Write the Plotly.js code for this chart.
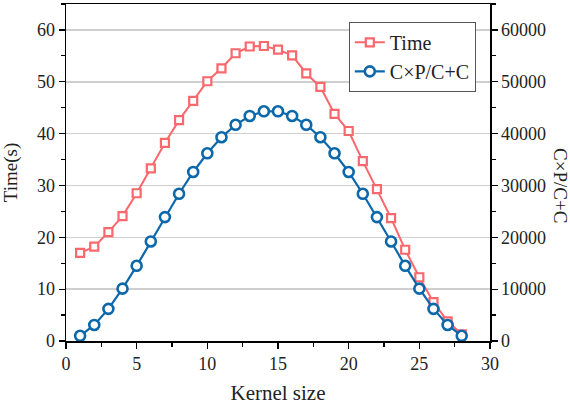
<!DOCTYPE html>
<html>
<head>
<meta charset="utf-8">
<script src="https://cdn.plot.ly/plotly-3.0.1.min.js"></script>
<style>html,body{margin:0;padding:0;background:#fff;}#chart{width:570px;height:406px;}</style>
</head>
<body>
<div id="chart"></div>
<script>
const kernelSize = [1,2,3,4,5,6,7,8,9,10,11,12,13,14,15,16,17,18,19,20,21,22,23,24,25,26,27,28];
const timeValues = [17.0,18.2,21.0,24.1,28.5,33.3,38.2,42.6,46.3,50.1,52.6,55.5,56.8,56.9,56.2,55.1,51.6,49.0,43.8,40.5,34.7,29.3,23.7,17.6,12.3,7.5,3.8,1.3];
const cpccValues = [1000,3100,6200,10100,14500,19200,23900,28400,32600,36200,39300,41700,43400,44300,44300,43400,41700,39300,36200,32600,28400,23900,19200,14500,10100,6200,3100,1000];
const seriesNames = ['Time', 'C\u00d7P/C+C'];
const axisTitles = {x: 'Kernel size', y: 'Time(s)', y2: 'C\u00d7P/C+C'};

const red = '#fa676c';
const blue = '#0d68aa';
const serif = 'Liberation Serif';

const traces = [
  {x: kernelSize, y: timeValues, name: seriesNames[0], type: 'scatter', mode: 'lines+markers',
   line: {color: red, width: 2},
   marker: {symbol: 'square', size: 8, color: '#ffffff', line: {color: red, width: 2.2}}},
  {x: kernelSize, y: cpccValues, name: seriesNames[1], type: 'scatter', mode: 'lines+markers', yaxis: 'y2',
   line: {color: blue, width: 2.2},
   marker: {symbol: 'circle', size: 10, color: '#ffffff', line: {color: blue, width: 2.6}}}
];

const layout = {
  width: 570, height: 406,
  margin: {l: 66, r: 80, t: 4, b: 65},
  paper_bgcolor: '#fff', plot_bgcolor: '#fff',
  font: {family: serif, color: '#222'},
  showlegend: true,
  legend: {x: 0.667, y: 0.947, xanchor: 'left', yanchor: 'top', bgcolor: '#fff',
           bordercolor: '#555', borderwidth: 1, font: {family: serif, size: 20, color: '#222'},
           tracegroupgap: 0, itemwidth: 30},
  xaxis: {range: [0, 30], dtick: 5, tick0: 0, showgrid: false, zeroline: false,
          showline: true, linecolor: '#000', linewidth: 1.5, mirror: true,
          ticks: 'outside', ticklen: 6, tickwidth: 1.2, tickcolor: '#000',
          minor: {dtick: 2.5, ticks: 'outside', ticklen: 4, tickwidth: 1.2, tickcolor: '#000', showgrid: false},
          tickfont: {family: serif, size: 18, color: '#222'},
          title: {text: axisTitles.x, font: {family: serif, size: 21, color: '#222'}, standoff: 12}},
  yaxis: {range: [0, 65], dtick: 10, tick0: 0, showgrid: true, gridcolor: '#cfcfcf', gridwidth: 1.5, zeroline: false,
          showline: true, linecolor: '#000', linewidth: 1.5,
          ticks: 'outside', ticklen: 6, tickwidth: 1.2, tickcolor: '#000',
          minor: {dtick: 5, ticks: 'outside', ticklen: 4, tickwidth: 1.2, tickcolor: '#000', showgrid: false},
          tickfont: {family: serif, size: 18, color: '#222'},
          title: {text: axisTitles.y, font: {family: serif, size: 19, color: '#222'}, standoff: 14}},
  yaxis2: {range: [0, 65000], dtick: 10000, tick0: 0, overlaying: 'y', side: 'right', showgrid: false, zeroline: false,
          showline: true, linecolor: '#000', linewidth: 1.5,
          ticks: 'outside', ticklen: 6, tickwidth: 1.2, tickcolor: '#000',
          minor: {dtick: 5000, ticks: 'outside', ticklen: 4, tickwidth: 1.2, tickcolor: '#000', showgrid: false},
          tickfont: {family: serif, size: 18, color: '#222'}, tickformat: 'd'},
  annotations: [{text: axisTitles.y2, xref: 'paper', yref: 'paper', x: 1.165, y: 0.46,
                 xanchor: 'center', yanchor: 'middle', showarrow: false, textangle: 90,
                 font: {family: serif, size: 19, color: '#222'}}]
};

Plotly.newPlot('chart', traces, layout, {displayModeBar: false, staticPlot: true});
</script>
</body>
</html>
